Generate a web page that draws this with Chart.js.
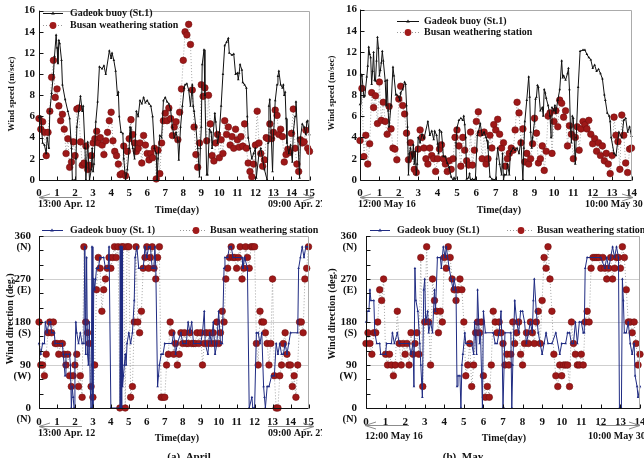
<!DOCTYPE html>
<html>
<head>
<meta charset="utf-8">
<script src="https://cdn.jsdelivr.net/npm/chart.js@4.4.0/dist/chart.umd.min.js"></script>
<style>
html, body { margin: 0; padding: 0; background: #fff; }
body { width: 644px; height: 458px; position: relative; overflow: hidden; }
canvas { position: absolute; }
</style>
</head>
<body>
<canvas id="aprSpeed" width="322" height="229" style="left:0;top:0"></canvas>
<canvas id="maySpeed" width="322" height="229" style="left:322px;top:0"></canvas>
<canvas id="aprDir" width="322" height="242" style="left:0;top:216px"></canvas>
<canvas id="mayDir" width="340" height="242" style="left:322px;top:216px"></canvas>
<script>
// ---- April, wind speed (m/s) ----
// Gadeok buoy: day / value
var aprBuoyDay = [0,0.1,0.2,0.3,0.4,0.45,0.55,0.6,0.7,0.8,
  0.86,0.95,1.0,1.05,1.1,1.15,1.25,1.3,1.45,1.6,
  1.7,1.8,1.85,2.0,2.05,2.1,2.2,2.3,2.4,2.45,
  2.55,2.6,2.7,2.8,2.9,2.95,3.0,3.05,3.15,3.25,
  3.35,3.5,3.6,3.7,3.9,4.0,4.05,4.15,4.25,4.35,
  4.4,4.45,4.55,4.65,4.7,4.8,4.9,5.0,5.05,5.1,
  5.2,5.3,5.4,5.5,5.6,5.7,5.8,5.9,6.0,6.1,
  6.2,6.3,6.4,6.5,6.55,6.6,6.7,6.8,6.9,7.0,
  7.1,7.2,7.3,7.4,7.5,7.6,7.7,7.75,7.85,7.95,
  8.05,8.1,8.2,8.3,8.4,8.5,8.55,8.6,8.7,8.8,
  8.9,8.95,9.0,9.05,9.15,9.2,9.3,9.35,9.45,9.55,
  9.6,9.75,9.8,9.9,10.0,10.1,10.2,10.3,10.4,10.5,
  10.55,10.7,10.8,10.9,11.0,11.05,11.1,11.15,11.25,11.3,
  11.4,11.5,11.55,11.6,11.7,11.8,11.9,12.0,12.05,12.2,
  12.3,12.5,12.65,12.7,12.75,12.8,12.85,12.95,13.0,13.1,
  13.2,13.25,13.3,13.4,13.5,13.55,13.6,13.65,13.7,13.75,
  13.85,13.95,14.0,14.05,14.1,14.2,14.25,14.35,14.45,14.5,
  14.6,14.7,14.8,14.85,14.9,15.0];
var aprBuoySpeed = [5.9,6.0,3.5,3.3,2.5,4.0,3.0,6.5,8.2,10.0,
  11.7,13.7,12.5,11.0,13.2,12.9,11.3,9.0,7.6,6.5,
  5.8,3.0,0.0,0.0,2.0,5.0,6.5,7.9,6.5,7.0,
  3.0,0.0,3.6,0.0,1.0,3.0,0.8,1.5,5.5,7.4,
  10.7,10.5,10.8,10.0,12.2,11.5,12.0,11.3,10.3,8.0,
  8.3,6.0,4.5,4.4,2.0,0.0,1.0,3.0,5.0,4.0,
  3.0,2.0,6.5,6.0,7.5,7.2,7.8,7.3,7.5,7.2,
  7.0,6.0,3.0,2.5,0.0,2.0,4.2,4.0,7.5,7.8,
  7.4,7.2,6.6,5.0,4.0,4.5,3.7,1.9,5.0,7.0,
  8.7,9.0,9.1,8.5,7.0,9.0,7.0,6.5,5.0,3.0,
  0.3,3.0,5.0,10.9,12.3,8.0,0.5,0.5,4.8,4.5,
  3.0,6.3,5.5,3.5,4.5,7.0,10.0,12.7,13.0,13.4,
  12.0,11.8,11.9,10.0,10.1,9.5,10.1,10.9,10.4,9.2,
  9.0,8.7,6.0,4.0,3.0,2.0,2.5,3.0,0.2,2.5,
  3.0,1.0,0.0,3.5,7.0,7.6,5.5,0.8,4.0,7.5,
  9.0,9.8,10.3,9.0,8.7,9.0,8.0,8.3,5.8,3.5,
  2.5,3.3,2.5,1.7,4.5,6.0,7.4,4.0,0.2,4.0,
  5.3,5.0,4.3,5.5,5.6,4.3];
// Busan station: one value every 0.1 day from day 0
var aprBusanSpeed = [5.8,4.8,5.5,4.5,2.3,4.5,6.5,9.7,11.3,7.8,
  8.6,7.0,5.6,6.2,4.8,2.5,3.9,1.2,1.7,3.6,
  2.3,6.7,6.8,3.6,1.4,1.6,3.2,1.0,1.4,2.3,
  3.5,3.9,4.6,3.5,4.0,3.3,2.4,3.7,4.5,5.6,
  6.4,3.7,2.7,2.3,1.5,0.5,0.6,3.2,0.4,2.7,
  3.9,5.7,4.3,3.5,2.7,3.0,3.5,1.6,4.2,3.3,
  2.5,1.9,2.5,2.1,3.0,0.1,2.8,0.6,3.5,5.6,
  6.3,5.6,6.8,5.8,4.2,5.0,5.5,3.8,6.4,8.6,
  11.3,14.0,13.7,14.7,12.8,8.5,5.0,2.4,1.2,3.5,
  9.0,7.9,8.7,3.7,8.0,5.3,2.3,1.8,3.5,4.3,
  2.1,3.8,2.5,5.6,4.3,5.0,3.3,4.1,3.0,4.8,
  3.8,3.1,4.1,3.2,5.3,3.0,1.6,0.8,0.3,1.5,
  3.3,6.5,3.5,2.5,1.3,1.9,4.0,3.9,5.3,3.9,
  4.5,6.6,6.1,4.3,4.8,4.1,1.7,2.4,2.9,2.6,
  4.4,6.7,3.0,1.5,0.8,3.8,3.5,3.6,4.7,3.0,
  2.7];

// ---- May, wind speed (m/s) ----
var mayBuoyDay = [0,0.05,0.1,0.2,0.25,0.35,0.4,0.45,0.5,0.55,
  0.6,0.65,0.7,0.75,0.8,0.85,0.9,0.95,1.0,1.05,
  1.1,1.15,1.2,1.3,1.35,1.4,1.45,1.5,1.6,1.7,
  1.75,1.85,1.9,2.0,2.05,2.1,2.2,2.3,2.35,2.4,
  2.45,2.5,2.55,2.6,2.7,2.75,2.8,2.85,2.9,2.95,
  3.0,3.1,3.2,3.3,3.5,3.6,3.7,3.8,3.85,3.95,
  4.0,4.05,4.1,4.2,4.25,4.3,4.4,4.5,4.6,4.7,
  4.8,4.85,4.9,4.95,5.0,5.1,5.2,5.3,5.35,5.4,
  5.45,5.5,5.6,5.65,5.7,5.8,5.9,5.95,6.05,6.1,
  6.2,6.3,6.4,6.5,6.55,6.6,6.7,6.8,6.9,7.0,
  7.05,7.1,7.2,7.3,7.35,7.4,7.45,7.55,7.6,7.7,
  7.75,7.8,7.9,8.0,8.1,8.2,8.3,8.4,8.45,8.5,
  8.6,8.7,8.75,8.8,8.85,8.9,9.0,9.05,9.1,9.15,
  9.2,9.3,9.4,9.45,9.5,9.55,9.6,9.7,9.8,9.85,
  9.9,10.0,10.05,10.1,10.2,10.3,10.4,10.45,10.5,10.6,
  10.7,10.75,10.8,10.85,10.9,10.95,11.0,11.1,11.15,11.25,
  11.35,11.5,11.6,11.7,11.8,11.9,12.0,12.1,12.2,12.3,
  12.4,12.5,12.6,12.65,12.75,12.85,12.9,12.95,13.1,13.2,
  13.35,13.5,13.6,13.7,13.8,13.9,14.0];
var mayBuoySpeed = [7.1,9.9,9.8,7.8,7.9,9.7,10.7,12.5,11.8,11.5,
  9.0,10.2,12.0,9.4,9.3,11.2,13.4,12.4,9.8,10.3,
  11.0,12.1,11.2,9.3,7.0,9.4,6.5,5.0,7.0,10.6,
  9.8,8.0,8.0,7.8,7.5,8.2,8.5,9.2,9.0,7.0,
  5.0,0.5,2.5,3.0,2.0,3.3,1.5,2.7,0.5,1.5,
  4.0,3.5,4.3,3.9,5.5,4.2,4.6,3.8,4.6,4.2,
  3.4,2.5,4.7,4.5,3.5,2.2,2.2,1.6,1.2,0.3,
  0.0,0.2,0.1,3.5,4.9,5.6,5.8,5.6,6.0,5.2,
  4.0,0.1,0.2,0.6,0.0,0.1,0.0,0.1,4.2,4.5,
  5.3,4.2,4.5,4.0,3.7,3.0,0.3,0.1,0.0,0.1,
  2.0,3.0,1.5,0.5,2.5,0.0,0.5,0.5,1.5,0.5,
  2.5,2.7,3.0,2.8,3.0,2.5,3.7,0.0,3.0,5.5,
  7.5,9.7,7.8,4.5,3.0,4.0,5.5,7.6,7.8,8.9,
  8.7,6.5,6.8,6.0,8.5,8.2,7.7,7.0,6.0,4.0,
  6.8,6.5,7.0,6.3,7.5,8.5,11.2,9.6,9.8,9.4,
  10.0,10.5,8.5,5.0,3.5,6.0,5.8,1.5,4.0,8.7,
  12.1,12.2,12.2,11.8,11.5,11.3,10.5,10.8,10.2,10.4,
  10.0,9.5,8.0,7.5,6.3,6.0,5.5,4.0,2.5,2.3,
  4.5,4.0,5.6,5.8,4.5,5.0,4.1];
var mayBusanSpeed = [3.7,8.6,2.2,4.2,1.5,3.4,8.2,6.8,7.9,5.3,
  9.2,5.6,7.3,5.5,4.3,6.9,4.8,3.0,2.9,1.9,
  7.6,8.8,7.0,6.2,4.4,1.9,3.5,2.4,1.0,0.7,
  2.9,4.7,4.0,3.0,2.0,1.5,3.0,2.3,2.0,0.8,
  2.0,2.9,3.3,2.0,1.5,0.8,1.8,1.0,2.0,4.0,
  4.7,3.2,1.3,4.0,2.8,1.8,1.4,4.5,1.4,2.8,
  5.5,6.4,4.4,2.0,4.5,1.5,2.0,4.2,3.0,5.2,
  4.7,5.7,4.3,3.0,3.5,1.3,2.0,2.5,3.0,2.8,
  4.7,7.3,6.3,3.5,4.8,1.7,2.5,1.5,2.0,3.4,
  5.8,4.4,1.6,2.0,3.2,0.9,2.7,6.0,6.3,2.5,
  5.5,6.5,5.0,7.5,7.2,5.9,6.5,3.2,5.1,4.3,
  2.0,4.0,5.0,2.8,4.8,5.5,5.2,4.8,5.6,4.3,
  3.4,3.9,2.7,3.5,2.3,3.2,1.8,2.5,1.5,0.6,
  2.3,5.9,4.2,3.6,1.0,6.1,4.2,1.6,0.7,2.9,
  3.0];

// ---- April, wind direction (deg) ----
var aprBuoyDirDay = [0,0.1,0.2,0.3,0.35,0.45,0.55,0.65,0.7,0.85,
  0.9,1.3,1.35,1.4,1.45,1.5,1.7,1.75,1.8,1.85,
  1.9,1.95,2.0,2.05,2.1,2.2,2.3,2.4,2.5,2.55,
  2.6,2.65,2.7,2.75,2.8,2.85,2.9,2.95,3.0,3.05,
  3.1,3.15,3.2,3.3,3.4,3.6,3.7,3.85,3.9,4.0,
  4.5,4.52,4.55,4.57,4.6,4.62,4.65,4.7,4.75,4.8,
  4.85,4.9,5.0,5.1,5.2,5.3,5.35,5.45,5.55,5.8,
  5.9,6.0,6.1,6.2,6.3,6.4,6.45,6.5,6.6,6.65,
  6.7,6.8,6.9,7.0,7.4,7.5,7.6,7.7,7.9,8.0,
  8.2,8.3,8.4,8.5,8.6,9.0,9.1,9.2,9.25,9.4,
  9.5,9.6,9.7,9.8,9.9,10.0,10.1,10.2,10.3,10.35,
  10.5,10.6,10.7,10.8,11.3,11.35,11.45,11.6,11.7,11.85,
  11.9,12.0,12.1,12.2,12.3,12.4,12.5,12.55,12.6,12.7,
  12.8,12.95,13.1,13.2,13.3,13.4,13.5,13.6,13.7,13.8,
  13.9,14.0,14.4,14.45,14.55,14.65,14.75,14.85,15.0];
var aprBuoyDir = [135,112.5,135,135,180,157.5,180,180,157.5,157.5,
  135,135,112.5,90,67.5,112.5,112.5,90,0,45,
  22.5,0,90,180,157.5,135,157.5,135,135,337.5,
  112.5,315,112.5,90,180,45,0,337.5,0,270,
  247.5,270,292.5,292.5,315,315,292.5,292.5,337.5,0,
  0,337.5,0,337.5,0,337.5,45,67.5,90,112.5,
  90,135,157.5,135,157.5,225,315,337.5,292.5,292.5,
  337.5,315,337.5,337.5,292.5,292.5,337.5,292.5,45,67.5,
  90,112.5,112.5,135,135,157.5,112.5,135,157.5,135,
  135,180,157.5,180,135,135,157.5,202.5,135,112.5,
  157.5,135,180,112.5,135,202.5,135,135,292.5,315,
  315,337.5,337.5,315,315,292.5,315,292.5,0,22.5,
  0,0,157.5,157.5,135,157.5,45,22.5,0,45,
  45,67.5,67.5,135,112.5,135,112.5,112.5,135,112.5,
  135,157.5,157.5,292.5,315,337.5,315,337.5,337.5];
var aprBusanDir = [180,90,90,67.5,112.5,157.5,180,157.5,180,135,
  135,112.5,135,135,112.5,90,112.5,67.5,45,67.5,
  90,112.5,45,67.5,22.5,337.5,180,157.5,135,45,
  22.5,90,247.5,315,292.5,202.5,247.5,270,292.5,315,
  292.5,315,337.5,315,337.5,0,337.5,337.5,0,337.5,
  337.5,22.5,45,180,337.5,180,157.5,202.5,292.5,315,
  337.5,292.5,315,337.5,292.5,270,315,337.5,22.5,22.5,
  22.5,90,112.5,180,157.5,112.5,135,90,112.5,157.5,
  135,157.5,135,135,157.5,135,135,135,157.5,135,
  157.5,90,135,157.5,135,157.5,135,157.5,135,180,
  135,157.5,202.5,180,270,292.5,315,337.5,315,315,
  292.5,315,337.5,270,292.5,337.5,315,292.5,337.5,337.5,
  337.5,135,90,202.5,180,180,157.5,135,90,135,
  270,67.5,0,0,67.5,90,135,157.5,112.5,90,
  90,45,67.5,22.5,90,180,180,157.5,270,292.5,
  337.5];

// ---- May, wind direction (deg) ----
var mayBuoyDirDay = [0,0.05,0.15,0.2,0.25,0.4,0.45,0.55,0.7,0.75,
  1.0,1.05,1.3,1.35,1.45,1.6,1.7,2.2,2.3,2.4,
  2.45,2.5,2.55,2.65,2.75,2.8,2.88,2.95,3.0,3.05,
  3.15,3.2,3.3,3.4,3.5,3.55,3.65,3.8,3.85,3.95,
  4.05,4.1,4.25,4.35,4.45,4.5,4.6,4.65,4.7,4.8,
  4.85,4.9,4.95,5.05,5.1,5.4,5.5,5.55,5.65,5.7,
  5.8,5.85,5.95,6.0,6.1,6.5,6.6,6.7,6.8,6.9,
  6.95,7.0,7.05,7.1,7.4,7.45,7.5,7.6,7.7,7.8,
  7.9,8.0,8.1,8.2,8.3,8.4,8.5,8.55,8.6,8.7,
  8.8,8.9,9.0,9.1,9.2,9.3,9.5,9.7,9.9,10.0,
  10.2,10.3,10.4,10.5,10.6,10.7,10.8,10.9,11.0,11.1,
  11.15,11.2,11.3,12.0,12.2,12.3,12.4,12.5,12.6,12.7,
  12.8,12.9,12.95,13.05,13.1,13.15,13.2,13.3,13.4,13.5,
  13.6,13.7,13.75,13.85,13.9,14.0];
var mayBuoyDir = [180,202.5,202.5,247.5,225,225,157.5,135,135,112.5,
  112.5,135,135,157.5,135,157.5,135,135,112.5,135,
  45,292.5,225,202.5,135,90,22.5,247.5,270,180,
  202.5,157.5,180,157.5,247.5,202.5,315,315,292.5,337.5,
  315,337.5,292.5,270,247.5,270,247.5,45,67.5,67.5,
  0,90,112.5,157.5,135,135,112.5,180,112.5,247.5,
  135,157.5,0,202.5,157.5,157.5,135,135,157.5,202.5,
  135,0,0,157.5,157.5,0,90,225,180,157.5,
  202.5,202.5,180,135,157.5,180,157.5,225,270,202.5,
  157.5,135,112.5,135,157.5,135,135,157.5,112.5,135,
  135,157.5,157.5,135,135,180,135,180,180,157.5,
  157.5,292.5,315,315,292.5,315,292.5,315,337.5,315,
  337.5,315,0,0,270,225,157.5,157.5,180,135,
  112.5,135,67.5,45,22.5,45];
var mayBusanDir = [135,157.5,135,112.5,157.5,157.5,180,247.5,225,270,
  112.5,90,112.5,90,67.5,90,202.5,135,90,135,
  112.5,135,90,157.5,112.5,135,157.5,112.5,315,45,
  180,337.5,180,90,270,225,202.5,157.5,202.5,180,
  315,292.5,337.5,315,270,247.5,225,247.5,270,247.5,
  180,67.5,90,135,45,90,157.5,180,157.5,180,
  67.5,22.5,45,22.5,90,202.5,180,157.5,180,157.5,
  135,90,112.5,90,112.5,180,135,157.5,180,112.5,
  90,135,157.5,135,180,157.5,135,180,202.5,135,
  225,315,292.5,337.5,270,202.5,112.5,67.5,45,90,
  67.5,90,90,90,45,180,135,112.5,90,90,
  112.5,90,180,202.5,180,292.5,315,315,315,315,
  292.5,315,292.5,270,292.5,315,270,292.5,315,315,
  292.5,337.5,315,247.5,180,180,157.5,180,135,90,
  112.5];

var busanStep = 0.1;
var SERIF = "'Liberation Serif', 'Times New Roman', serif";

function pairs(days, vals) {
  return days.map(function (d, i) { return { x: d, y: vals[i] }; });
}
function stepped(vals) {
  return vals.map(function (v, i) { return { x: Math.round(i * busanStep * 100) / 100, y: v }; });
}

function label(ctx, s, x, y, align, size) {
  ctx.font = 'bold ' + size + 'px ' + SERIF;
  ctx.textAlign = align;
  ctx.textBaseline = 'middle';
  ctx.fillStyle = '#111';
  ctx.fillText(s, x, y);
}

function arrow(ctx, tail, tip, y) {
  var d = tip > tail ? -1 : 1;
  ctx.strokeStyle = '#8c8c8c';
  ctx.lineWidth = 1;
  ctx.beginPath();
  ctx.moveTo(tail, y + 0.5);
  ctx.lineTo(tip, y + 0.5);
  ctx.moveTo(tip + d * 11, y - 3);
  ctx.lineTo(tip, y + 0.5);
  ctx.lineTo(tip + d * 11, y + 4);
  ctx.stroke();
}

// frame, inward ticks, titles, legend, date notes
var deco = {
  id: 'deco',
  afterDraw: function (chart, args, o) {
    var ctx = chart.ctx, a = chart.chartArea;
    var xs = chart.scales.x, ys = chart.scales.y;
    var L = Math.round(a.left) + 0.5, B = Math.round(a.bottom) + 0.5;
    ctx.save();
    ctx.lineWidth = 1;
    ctx.strokeStyle = '#ababab';
    ctx.beginPath();
    ctx.moveTo(L, Math.round(a.top) + 0.5);
    ctx.lineTo(Math.round(a.right) - 0.5, Math.round(a.top) + 0.5);
    ctx.lineTo(Math.round(a.right) - 0.5, B);
    ctx.stroke();
    ctx.strokeStyle = '#111';
    ctx.beginPath();
    ctx.moveTo(L, a.top);
    ctx.lineTo(L, B);
    ctx.lineTo(a.right, B);
    ys.ticks.forEach(function (t) {
      var y = Math.round(ys.getPixelForValue(t.value)) + 0.5;
      ctx.moveTo(L, y); ctx.lineTo(L + 4, y);
    });
    xs.ticks.forEach(function (t) {
      var x = Math.round(xs.getPixelForValue(t.value)) + 0.5;
      ctx.moveTo(x, B); ctx.lineTo(x, B - 4);
    });
    ctx.stroke();

    if (o.compass) {
      var names = { 0: '(N)', 90: '(W)', 180: '(S)', 270: '(E)', 360: '(N)' };
      Object.keys(names).forEach(function (v) {
        label(ctx, names[v], a.left - o.compassPad, ys.getPixelForValue(+v) + 11, 'right', 10.5);
      });
    }

    ctx.save();
    ctx.translate(o.yTitle.x, o.yTitle.y);
    ctx.rotate(-Math.PI / 2);
    label(ctx, o.yTitle.text, 0, 0, 'center', o.yTitle.size);
    ctx.restore();

    label(ctx, 'Time(day)', o.xTitle.x, o.xTitle.y, 'center', 10);
    o.arrows.forEach(function (ar) { arrow(ctx, ar.tail, ar.tip, ar.y); });
    o.dates.forEach(function (dt) { label(ctx, dt.text, dt.x, dt.y, 'left', 10); });
    if (o.caption) label(ctx, o.caption.text, o.caption.x, o.caption.y, 'center', 11);

    o.legend.forEach(function (it) {
      ctx.beginPath();
      ctx.lineWidth = 1;
      if (it.busan) { ctx.setLineDash([1, 2]); ctx.strokeStyle = '#999'; }
      else { ctx.setLineDash([]); ctx.strokeStyle = o.buoyColor; }
      ctx.moveTo(it.x1, it.y + 0.5);
      ctx.lineTo(it.x2, it.y + 0.5);
      ctx.stroke();
      ctx.setLineDash([]);
      var mx = it.mx;
      ctx.beginPath();
      if (it.busan) {
        ctx.fillStyle = '#a01a1a';
        ctx.arc(mx, it.y + 0.5, 3.4, 0, Math.PI * 2);
        ctx.fill();
      } else {
        ctx.fillStyle = o.buoyColor;
        ctx.moveTo(mx, it.y - 1.5);
        ctx.lineTo(mx + 1.8, it.y + 1.5);
        ctx.lineTo(mx - 1.8, it.y + 1.5);
        ctx.fill();
      }
      label(ctx, it.text, it.tx, it.y + 0.5, 'left', 10);
    });
    ctx.restore();
  }
};

function buildChart(id, p) {
  var isDir = p.kind === 'dir';
  return new Chart(document.getElementById(id), {
    type: 'scatter',
    data: {
      datasets: [{
        label: 'Gadeok buoy',
        data: p.buoy,
        showLine: true,
        clip: false,
        borderColor: p.buoyColor,
        borderWidth: 1,
        pointStyle: 'triangle',
        pointRadius: 1.5,
        pointBackgroundColor: p.buoyColor,
        pointBorderWidth: 0
      }, {
        label: 'Busan weathering station',
        data: p.busan,
        showLine: true,
        clip: false,
        borderColor: '#a5a5a5',
        borderWidth: 1,
        borderDash: [1, 2],
        pointRadius: 3.3,
        pointBackgroundColor: '#9e1818',
        pointBorderColor: '#741010',
        pointBorderWidth: 0.6
      }]
    },
    options: {
      responsive: false,
      animation: false,
      events: [],
      layout: { padding: { left: 0, top: p.area.t, right: p.w - p.area.r, bottom: 0 } },
      plugins: {
        legend: { display: false },
        tooltip: { enabled: false },
        deco: p.deco
      },
      scales: {
        x: {
          type: 'linear', min: 0, max: p.xMax,
          grid: { display: false, drawTicks: false },
          border: { display: false },
          ticks: {
            stepSize: 1, autoSkip: false, maxRotation: 0, padding: p.xPad, color: '#111',
            font: { family: SERIF, size: 11, weight: 'bold' }
          },
          afterFit: function (s) { s.height = p.h - p.area.b; }
        },
        y: {
          min: 0, max: isDir ? 360 : 16,
          grid: {
            display: isDir, drawTicks: false,
            color: function (c) {
              var v = c.tick && c.tick.value;
              return (v === 90 || v === 180 || v === 270) ? '#cfcfcf' : 'rgba(0,0,0,0)';
            }
          },
          border: { display: false },
          ticks: {
            stepSize: isDir ? 30 : 2, autoSkip: false, padding: p.yPad, color: '#111',
            font: { family: SERIF, size: 11, weight: 'bold' },
            callback: function (v) { return (!isDir || v % 90 === 0) ? String(v) : ''; }
          },
          afterFit: function (s) { s.width = p.area.l; }
        }
      }
    },
    plugins: [deco]
  });
}

buildChart('aprSpeed', {
  kind: 'speed', w: 322, h: 229, area: { l: 39, r: 312, t: 7, b: 180 }, xMax: 15, xPad: 7, yPad: 4,
  buoy: pairs(aprBuoyDay, aprBuoySpeed), busan: stepped(aprBusanSpeed), buoyColor: '#111',
  deco: {
    buoyColor: '#111',
    yTitle: { text: 'Wind speed (m/sec)', x: 12, y: 94, size: 9 },
    xTitle: { x: 177, y: 210 },
    arrows: [{ tail: 82, tip: 39, y: 197 }, { tail: 268, tip: 314, y: 197 }],
    dates: [{ text: '13:00 Apr. 12', x: 38, y: 204 }, { text: '09:00 Apr. 27', x: 268, y: 204 }],
    legend: [
      { x1: 43, x2: 63, mx: 53, y: 13, tx: 70, text: 'Gadeok buoy (St.1)' },
      { busan: true, x1: 43, x2: 63, mx: 53, y: 25, tx: 70, text: 'Busan weathering station' }
    ]
  }
});

buildChart('maySpeed', {
  kind: 'speed', w: 322, h: 229, area: { l: 38, r: 311, t: 7, b: 180 }, xMax: 14, xPad: 7, yPad: 3,
  buoy: pairs(mayBuoyDay, mayBuoySpeed), busan: stepped(mayBusanSpeed), buoyColor: '#111',
  deco: {
    buoyColor: '#111',
    yTitle: { text: 'Wind speed (m/sec)', x: 10, y: 93, size: 9 },
    xTitle: { x: 177, y: 210 },
    arrows: [{ tail: 82, tip: 38, y: 197 }, { tail: 270, tip: 311, y: 197 }],
    dates: [{ text: '12:00 May 16', x: 36, y: 204 }, { text: '10:00 May 30', x: 263, y: 204 }],
    legend: [
      { x1: 75, x2: 97, mx: 86, y: 21, tx: 102, text: 'Gadeok buoy (St.1)' },
      { busan: true, x1: 75, x2: 97, mx: 86, y: 32, tx: 102, text: 'Busan weathering station' }
    ]
  }
});

buildChart('aprDir', {
  kind: 'dir', w: 322, h: 242, area: { l: 39, r: 312, t: 20, b: 192 }, xMax: 15, xPad: 8, yPad: 8,
  buoy: pairs(aprBuoyDirDay, aprBuoyDir), busan: stepped(aprBusanDir), buoyColor: '#1f2b82',
  deco: {
    buoyColor: '#1f2b82', compass: true, compassPad: 8,
    yTitle: { text: 'Wind direction (deg.)', x: 10, y: 103, size: 10 },
    xTitle: { x: 177, y: 222 },
    arrows: [{ tail: 82, tip: 39, y: 210 }, { tail: 268, tip: 314, y: 210 }],
    dates: [{ text: '13:00 Apr. 12', x: 38, y: 217 }, { text: '09:00 Apr. 27', x: 268, y: 217 }],
    caption: { text: '(a)  April', x: 189, y: 241 },
    legend: [
      { x1: 42, x2: 63, mx: 52, y: 14, tx: 70, text: 'Gadeok buoy (St. 1)' },
      { busan: true, x1: 180, x2: 207, mx: 196, y: 14, tx: 210, text: 'Busan weathering station' }
    ]
  }
});

buildChart('mayDir', {
  kind: 'dir', w: 340, h: 242, area: { l: 44, r: 318, t: 20, b: 192 }, xMax: 14, xPad: 8, yPad: 9,
  buoy: pairs(mayBuoyDirDay, mayBuoyDir), busan: stepped(mayBusanDir), buoyColor: '#1f2b82',
  deco: {
    buoyColor: '#1f2b82', compass: true, compassPad: 9,
    yTitle: { text: 'Wind direction (deg.)', x: 10, y: 98, size: 10 },
    xTitle: { x: 182, y: 222 },
    arrows: [{ tail: 87, tip: 43, y: 209 }, { tail: 277, tip: 318, y: 209 }],
    dates: [{ text: '12:00 May 16', x: 43, y: 220 }, { text: '10:00 May 30', x: 266, y: 220 }],
    caption: { text: '(b)  May', x: 141, y: 241 },
    legend: [
      { x1: 48, x2: 68, mx: 58, y: 14, tx: 75, text: 'Gadeok buoy (St.1)' },
      { busan: true, x1: 185, x2: 212, mx: 199, y: 14, tx: 215, text: 'Busan weathering station' }
    ]
  }
});
</script>
</body>
</html>
